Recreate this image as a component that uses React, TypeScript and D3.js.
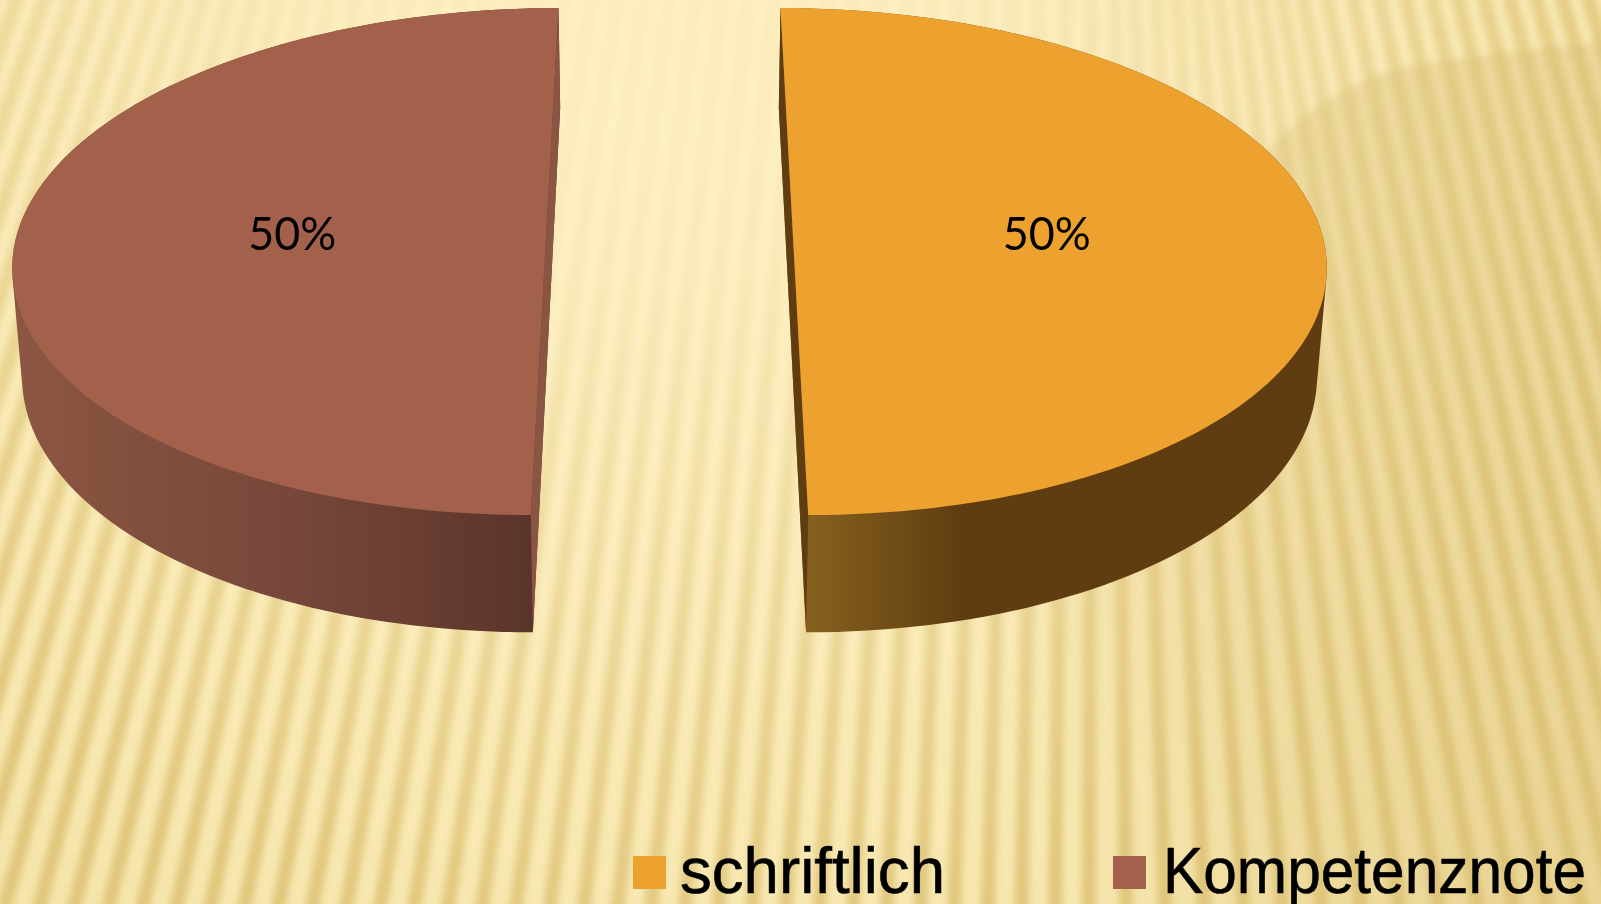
import React from "react";
import * as d3 from "d3";

const categories = ["schriftlich", "Kompetenznote"];
const seriesValues = [50, 50];
const topColors = ["#EDA12E", "#A3614C"];
const wallColors = ["#5F3D10", "#8A5542"];
const sideStops = [
  [
    { x: 810, c: "#85601F" },
    { x: 960, c: "#603D10" },
    { x: 1330, c: "#5F3D10" },
  ],
  [
    { x: 20, c: "#8C5642" },
    { x: 290, c: "#76473A" },
    { x: 400, c: "#6C3F32" },
    { x: 532, c: "#5A342B" },
  ],
];
const legendItems = [
  { sx: 633, tx: 680, tw: 265 },
  { sx: 1113, tx: 1163, tw: 423 },
];

// Stripe angles of the backdrop: x at mid height -> horizontal lean per px of y
const stripeX = [-300, 0, 200, 650, 1100, 1400, 1750];
const stripeLean = [-0.38, -0.32, -0.25, -0.12, 0, 0.2, 0.3];
const shadeEdge: [number, number][] = [
  [1180, 262],
  [1240, 180],
  [1277, 140],
  [1317, 107],
  [1383, 73],
  [1500, 53],
  [1601, 43],
  [1640, 40],
];

const W = 1601;
const H = 904;
const CX = 669.5;
const Y0 = 233.4;
const Y0_BOTTOM = 341;
const R = 529;
const RY = 250.4;
const RY_BOTTOM = 259;
const EXPLODE = 123.3;
const P = 0.111;
const SHRINK = 0.985;

function project(a: number, radius: number, dir: number, bottom: boolean): [number, number] {
  const u = Math.sin(a) * radius;
  const v = Math.cos(a) * radius;
  const s = 1 / (1 + P * v);
  const k = bottom ? SHRINK : 1;
  return [
    CX + (u * R + dir * EXPLODE) * s * k,
    bottom ? Y0_BOTTOM - RY_BOTTOM * v * s : Y0 - RY * v * s,
  ];
}

export default function App() {
  const arcs = d3.pie<number>().sort(null)(seriesValues);
  const total = d3.sum(seriesValues);
  const line = d3.line();
  const leanAt = d3.scaleLinear().domain(stripeX).range(stripeLean);
  const stripes = d3.range(-500, 2000, 30);
  const edge = d3.line().curve(d3.curveCatmullRom)(shadeEdge) as string;

  const slices = arcs.map((d, i) => {
    const mid = (d.startAngle + d.endAngle) / 2;
    const dir = Math.sign(Math.sin(mid));
    const angle = d3.scaleLinear().domain([0, 120]).range([d.startAngle, d.endAngle]);
    const ts = d3.range(0, 121);
    const topPts = ts.map((t) => project(angle(t), 1, dir, false));
    const botPts = ts.map((t) => project(angle(t), 1, dir, true));
    const backA = dir > 0 ? d.startAngle : d.endAngle;
    const frontA = dir > 0 ? d.endAngle : d.startAngle;
    const wall: [number, number][] = [
      project(backA, 1, dir, false),
      project(backA, 1, dir, true),
      project(frontA, 1, dir, true),
      project(frontA, 1, dir, false),
    ];
    const label = project(mid, 0.48, dir, false);
    const hull = d3.polygonHull([...topPts, ...botPts]) as [number, number][];
    return {
      top: line(topPts) + "Z",
      side: line(hull) + "Z",
      wall: line(wall) + "Z",
      label,
      text: `${Math.round((d.data / total) * 100)}%`,
      i,
    };
  });

  return (
    <svg
      width={W}
      height={H}
      viewBox={`0 0 ${W} ${H}`}
      style={{ position: "fixed", left: 0, top: 0, display: "block" }}
    >
      <defs>
        <radialGradient id="bg" gradientUnits="userSpaceOnUse" cx={640} cy={120} r={1250}
          gradientTransform="translate(640 120) scale(1 0.85) translate(-640 -120)">
          <stop offset="0" stopColor="#FEF1C4" />
          <stop offset="0.4" stopColor="#FCEDBD" />
          <stop offset="0.75" stopColor="#F8E8B1" />
          <stop offset="1" stopColor="#F3E1A6" />
        </radialGradient>
        <radialGradient id="stripeFade" gradientUnits="userSpaceOnUse" cx={660} cy={-100} r={1050}>
          <stop offset="0" stopColor="#fff" stopOpacity="0.03" />
          <stop offset="0.35" stopColor="#fff" stopOpacity="0.12" />
          <stop offset="0.6" stopColor="#fff" stopOpacity="0.38" />
          <stop offset="0.85" stopColor="#fff" stopOpacity="0.68" />
          <stop offset="1" stopColor="#fff" stopOpacity="0.88" />
        </radialGradient>
        <mask id="stripeMask" maskUnits="userSpaceOnUse" x={0} y={0} width={W} height={H}>
          <rect width={W} height={H} fill="url(#stripeFade)" />
        </mask>
        <filter id="soft" x="-10%" y="-10%" width="120%" height="120%">
          <feGaussianBlur stdDeviation="3.6" />
        </filter>
        <filter id="softEdge" x="-10%" y="-10%" width="120%" height="120%">
          <feGaussianBlur stdDeviation="3" />
        </filter>
        <linearGradient id="shade" gradientUnits="userSpaceOnUse" x1={1000} y1={700} x2={1500} y2={500}>
          <stop offset="0" stopColor="#D8BE74" stopOpacity="0" />
          <stop offset="0.45" stopColor="#D8BE74" stopOpacity="0.26" />
          <stop offset="1" stopColor="#D8BE74" stopOpacity="0.36" />
        </linearGradient>
        {sideStops.map((stops, i) => {
          const x0 = stops[0].x;
          const x1 = stops[stops.length - 1].x;
          const off = d3.scaleLinear().domain([x0, x1]).range([0, 1]);
          return (
            <linearGradient key={i} id={`side${i}`} gradientUnits="userSpaceOnUse" x1={x0} y1={0} x2={x1} y2={0}>
              {stops.map((s) => (
                <stop key={s.x} offset={off(s.x)} stopColor={s.c} />
              ))}
            </linearGradient>
          );
        })}
      </defs>

      <rect width={W} height={H} fill="url(#bg)" />
      <g mask="url(#stripeMask)">
        <g filter="url(#soft)" stroke="#DDC275" strokeWidth={14} fill="none">
          {stripes.map((x0) => {
            const k = leanAt(x0);
            return <line key={x0} x1={x0 + k * (-60 - 450)} y1={-60} x2={x0 + k * (964 - 450)} y2={964} />;
          })}
        </g>
      </g>
      <path d={`${edge}L1640 960L760 960L900 500Z`} fill="url(#shade)" filter="url(#softEdge)" />

      {slices.map((s) => (
        <g key={s.i}>
          <path d={s.side} fill={`url(#side${s.i})`} />
          <path d={s.wall} fill={wallColors[s.i]} />
          <path d={s.top} fill={topColors[s.i]} />
          <text
            x={s.label[0]}
            y={s.label[1] + 16.5}
            textAnchor="middle"
            fontFamily="Lato, 'Liberation Sans', Arial, sans-serif"
            fontWeight={400}
            fontSize={46}
            fill="#000"
            textLength={88}
            lengthAdjust="spacingAndGlyphs"
          >
            {s.text}
          </text>
        </g>
      ))}

      {categories.map((c, i) => (
        <g key={c}>
          <rect x={legendItems[i].sx} y={856} width={33} height={33} fill={topColors[i]} />
          <text
            x={legendItems[i].tx}
            y={893}
            fontFamily="'Liberation Sans', Arial, sans-serif"
            fontSize={64}
            fill="#000"
            stroke="#000"
            strokeWidth={0.6}
            textLength={legendItems[i].tw}
            lengthAdjust="spacingAndGlyphs"
          >
            {c}
          </text>
        </g>
      ))}
    </svg>
  );
}
